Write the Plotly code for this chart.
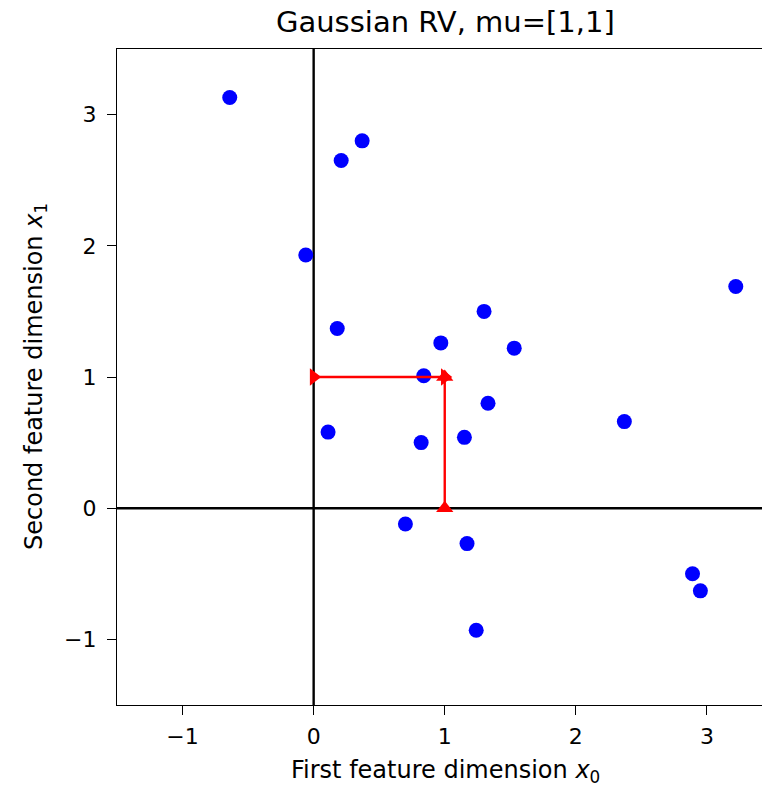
import plotly.graph_objects as go

# Sample points (x0, x1)
pts_x0 = [-0.64, 0.21, 0.37, -0.06, 0.18, 0.97, 1.30, 1.53, 3.22, 0.84,
          1.33, 2.37, 0.11, 0.82, 1.15, 0.70, 1.17, 1.24, 2.89, 2.95]
pts_x1 = [3.13, 2.65, 2.80, 1.93, 1.37, 1.26, 1.50, 1.22, 1.69, 1.01,
          0.80, 0.66, 0.58, 0.50, 0.54, -0.12, -0.27, -0.93, -0.50, -0.63]

mu = [1, 1]
x_ticks = [-1, 0, 1, 2, 3]
y_ticks = [-1, 0, 1, 2, 3]
tick_text = ["\u22121", "0", "1", "2", "3"]
x_range = [-1.5, 3.42]
y_range = [-1.5, 3.5]

FONT = "DejaVu Sans"

fig = go.Figure()

# axis lines through origin
fig.add_trace(go.Scatter(x=x_range, y=[0, 0], mode="lines",
                         line=dict(color="black", width=2.4), hoverinfo="skip"))
fig.add_trace(go.Scatter(x=[0, 0], y=y_range, mode="lines",
                         line=dict(color="black", width=2.4), hoverinfo="skip"))

# samples
fig.add_trace(go.Scatter(x=pts_x0, y=pts_x1, mode="markers",
                         marker=dict(color="blue", size=15, line=dict(width=0))))

# mean component arrows
fig.add_trace(go.Scatter(x=[0, mu[0]], y=[mu[1], mu[1]], mode="lines+markers",
                         line=dict(color="red", width=2.4),
                         marker=dict(symbol="triangle-right", size=15, color="red",
                                     line=dict(width=0))))
fig.add_trace(go.Scatter(x=[mu[0], mu[0]], y=[0, mu[1]], mode="lines+markers",
                         line=dict(color="red", width=2.4),
                         marker=dict(symbol="triangle-up", size=15, color="red",
                                     line=dict(width=0))))

fig.update_layout(
    width=762, height=786,
    margin=dict(l=117, r=0, t=49, b=81),
    plot_bgcolor="white", paper_bgcolor="white",
    showlegend=False,
    font=dict(family=FONT, size=22, color="black"),
    xaxis=dict(range=x_range, tickvals=x_ticks, ticktext=tick_text,
               showgrid=False, zeroline=False,
               showline=True, linecolor="black", linewidth=1.3, mirror=True,
               ticks="outside", ticklen=9, tickwidth=1.3, tickcolor="black",
               ticklabelstandoff=2,
               tickfont=dict(size=22)),
    yaxis=dict(range=y_range, tickvals=y_ticks, ticktext=tick_text,
               showgrid=False, zeroline=False,
               showline=True, linecolor="black", linewidth=1.3,
               ticks="outside", ticklen=9, tickwidth=1.3, tickcolor="black",
               ticklabelstandoff=6,
               tickfont=dict(size=22)),
    annotations=[
        dict(text="Gaussian RV, mu=[1,1]", xref="paper", yref="paper",
             x=(445 - 117) / 645, y=1, yanchor="middle", yshift=27,
             showarrow=False, font=dict(size=29)),
        dict(text="First feature dimension <i>x</i><sub>0</sub>",
             xref="paper", yref="paper", x=(445 - 117) / 645, y=0,
             yanchor="middle", yshift=-66, showarrow=False, font=dict(size=24)),
        dict(text="Second feature dimension <i>x</i><sub>1</sub>",
             xref="paper", yref="paper", x=0, y=0.5, xanchor="center",
             xshift=-82, textangle=-90, showarrow=False, font=dict(size=24)),
    ],
)

fig.write_html("out.html")
